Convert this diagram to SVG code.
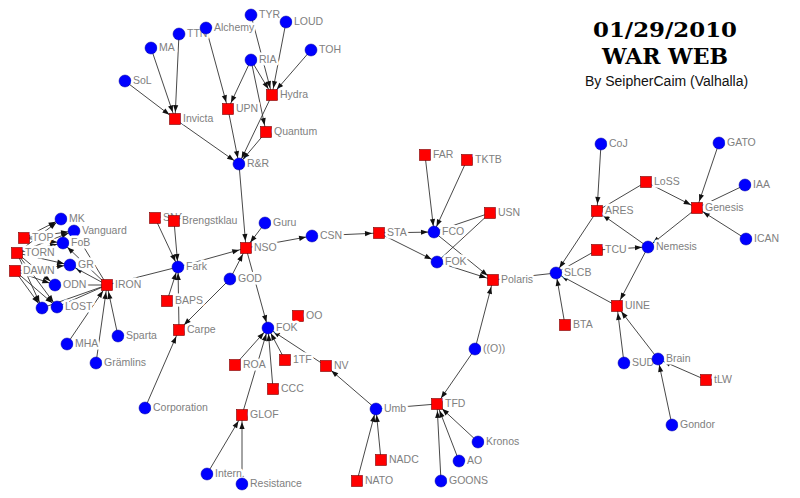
<svg xmlns="http://www.w3.org/2000/svg" width="800" height="498" viewBox="0 0 800 498">
<style>
.e{stroke:#333;stroke-width:0.9;fill:none}
.a{marker-end:url(#mc)}
.b{marker-end:url(#ms)}
.c{fill:#0000ff;stroke:#0000a0;stroke-width:0.5}
.s{fill:#ff0000;stroke:#7a0000;stroke-width:0.6}
.l{font-family:"Liberation Sans",Arial,sans-serif;font-size:10.5px;fill:#808080;stroke:#fff;stroke-width:5;paint-order:stroke;stroke-linejoin:round}
.t{font-family:"DejaVu Serif","Liberation Serif",serif;font-weight:bold;fill:#000}
.by{font-family:"Liberation Sans",Arial,sans-serif;font-size:14px;fill:#111}
</style>
<defs>
<marker id="mc" viewBox="0 -4 8 8" markerWidth="8" markerHeight="8" refX="13" refY="0" orient="auto" markerUnits="userSpaceOnUse" overflow="visible"><path d="M0,-2.6 L7,0 L0,2.6 z" fill="#111"/></marker>
<marker id="ms" viewBox="0 -4 8 8" markerWidth="8" markerHeight="8" refX="14" refY="0" orient="auto" markerUnits="userSpaceOnUse" overflow="visible"><path d="M0,-2.6 L7,0 L0,2.6 z" fill="#111"/></marker>
</defs>
<rect width="800" height="498" fill="#fff"/>
<g id="title">
<text class="t" x="593" y="37" font-size="21" textLength="144" lengthAdjust="spacingAndGlyphs">01/29/2010</text>
<text class="t" x="602" y="64" font-size="22" textLength="126" lengthAdjust="spacingAndGlyphs">WAR WEB</text>
<text class="by" x="585" y="86">By SeipherCaim (Valhalla)</text>
</g>
<g id="connectors">
<line class="e b" x1="125" y1="81" x2="175" y2="119"/>
<line class="e b" x1="151" y1="48" x2="175" y2="119"/>
<line class="e b" x1="179" y1="34" x2="175" y2="119"/>
<line class="e b" x1="206" y1="28" x2="228" y2="109"/>
<line class="e b" x1="251" y1="15" x2="272" y2="95"/>
<line class="e b" x1="286" y1="22" x2="272" y2="95"/>
<line class="e b" x1="311" y1="50" x2="272" y2="95"/>
<line class="e b" x1="251" y1="60" x2="272" y2="95"/>
<line class="e b" x1="251" y1="60" x2="228" y2="109"/>
<line class="e b" x1="251" y1="60" x2="266" y2="132"/>
<line class="e a" x1="175" y1="119" x2="239" y2="164"/>
<line class="e a" x1="228" y1="109" x2="239" y2="164"/>
<line class="e a" x1="272" y1="95" x2="239" y2="164"/>
<line class="e a" x1="266" y1="132" x2="239" y2="164"/>
<line class="e b" x1="239" y1="164" x2="246" y2="248"/>
<line class="e a" x1="155" y1="218" x2="178" y2="267"/>
<line class="e a" x1="174" y1="221" x2="178" y2="267"/>
<line class="e a" x1="167" y1="301" x2="178" y2="267"/>
<line class="e a" x1="179" y1="330" x2="178" y2="267"/>
<line class="e b" x1="178" y1="267" x2="246" y2="248"/>
<line class="e" x1="107" y1="285" x2="178" y2="267"/>
<line class="e b" x1="230" y1="279" x2="246" y2="248"/>
<line class="e b" x1="230" y1="279" x2="179" y2="330"/>
<line class="e b" x1="265" y1="223" x2="246" y2="248"/>
<line class="e a" x1="246" y1="248" x2="312" y2="236"/>
<line class="e a" x1="246" y1="248" x2="268" y2="328"/>
<line class="e b" x1="145" y1="408" x2="179" y2="330"/>
<line class="e a" x1="235" y1="365" x2="268" y2="328"/>
<line class="e a" x1="242" y1="415" x2="268" y2="328"/>
<line class="e a" x1="273" y1="389" x2="268" y2="328"/>
<line class="e a" x1="285" y1="360" x2="268" y2="328"/>
<line class="e a" x1="326" y1="366" x2="268" y2="328"/>
<line class="e b" x1="376" y1="409" x2="326" y2="366"/>
<line class="e b" x1="207" y1="474" x2="242" y2="415"/>
<line class="e b" x1="242" y1="484" x2="242" y2="415"/>
<line class="e a" x1="381" y1="460" x2="376" y2="409"/>
<line class="e a" x1="357" y1="481" x2="376" y2="409"/>
<line class="e" x1="376" y1="409" x2="437" y2="404"/>
<line class="e b" x1="475" y1="349" x2="437" y2="404"/>
<line class="e b" x1="475" y1="349" x2="493" y2="280"/>
<line class="e b" x1="441" y1="481" x2="437" y2="404"/>
<line class="e b" x1="459" y1="461" x2="437" y2="404"/>
<line class="e b" x1="478" y1="442" x2="437" y2="404"/>
<line class="e b" x1="312" y1="236" x2="379" y2="233"/>
<line class="e a" x1="379" y1="233" x2="434" y2="232"/>
<line class="e a" x1="379" y1="233" x2="437" y2="262"/>
<line class="e a" x1="425" y1="155" x2="434" y2="232"/>
<line class="e a" x1="467" y1="160" x2="434" y2="232"/>
<line class="e" x1="490" y1="213" x2="434" y2="232"/>
<line class="e" x1="490" y1="213" x2="437" y2="262"/>
<line class="e b" x1="434" y1="232" x2="493" y2="280"/>
<line class="e b" x1="437" y1="262" x2="493" y2="280"/>
<line class="e" x1="493" y1="280" x2="556" y2="273"/>
<line class="e b" x1="601" y1="144" x2="597" y2="211"/>
<line class="e b" x1="646" y1="182" x2="697" y2="208"/>
<line class="e" x1="646" y1="182" x2="597" y2="211"/>
<line class="e b" x1="719" y1="143" x2="697" y2="208"/>
<line class="e" x1="745" y1="185" x2="697" y2="208"/>
<line class="e b" x1="746" y1="239" x2="697" y2="208"/>
<line class="e b" x1="648" y1="247" x2="597" y2="211"/>
<line class="e a" x1="697" y1="208" x2="648" y2="247"/>
<line class="e a" x1="597" y1="250" x2="648" y2="247"/>
<line class="e" x1="597" y1="250" x2="556" y2="273"/>
<line class="e a" x1="597" y1="211" x2="556" y2="273"/>
<line class="e b" x1="648" y1="247" x2="617" y2="306"/>
<line class="e a" x1="617" y1="306" x2="556" y2="273"/>
<line class="e a" x1="565" y1="325" x2="556" y2="273"/>
<line class="e b" x1="624" y1="363" x2="617" y2="306"/>
<line class="e b" x1="658" y1="359" x2="617" y2="306"/>
<line class="e a" x1="706" y1="380" x2="658" y2="359"/>
<line class="e a" x1="672" y1="425" x2="658" y2="359"/>
<line class="e a" x1="107" y1="285" x2="70" y2="265"/>
<line class="e a" x1="107" y1="285" x2="63" y2="243"/>
<line class="e a" x1="107" y1="285" x2="74" y2="231"/>
<line class="e" x1="107" y1="285" x2="55" y2="285"/>
<line class="e" x1="107" y1="285" x2="57" y2="307"/>
<line class="e" x1="107" y1="285" x2="42" y2="308"/>
<line class="e b" x1="67" y1="344" x2="107" y2="285"/>
<line class="e b" x1="96" y1="363" x2="107" y2="285"/>
<line class="e b" x1="118" y1="336" x2="107" y2="285"/>
<line class="e a" x1="24" y1="238" x2="61" y2="219"/>
<line class="e a" x1="24" y1="238" x2="74" y2="231"/>
<line class="e a" x1="24" y1="238" x2="63" y2="243"/>
<line class="e a" x1="17" y1="253" x2="61" y2="219"/>
<line class="e a" x1="17" y1="253" x2="74" y2="231"/>
<line class="e a" x1="17" y1="253" x2="63" y2="243"/>
<line class="e a" x1="17" y1="253" x2="70" y2="265"/>
<line class="e a" x1="17" y1="253" x2="55" y2="285"/>
<line class="e a" x1="17" y1="253" x2="57" y2="307"/>
<line class="e a" x1="17" y1="253" x2="42" y2="308"/>
<line class="e a" x1="15" y1="271" x2="70" y2="265"/>
<line class="e a" x1="15" y1="271" x2="55" y2="285"/>
<line class="e a" x1="15" y1="271" x2="42" y2="308"/>
<line class="e a" x1="15" y1="271" x2="57" y2="307"/>
</g>
<g id="nodes">
<g id="n-SoL"><circle class="c" cx="125" cy="81" r="6"/><text class="l" x="133" y="84">SoL</text></g>
<g id="n-MA"><circle class="c" cx="151" cy="48" r="6"/><text class="l" x="159" y="51">MA</text></g>
<g id="n-TTN"><circle class="c" cx="179" cy="34" r="6"/><text class="l" x="187" y="37">TTN</text></g>
<g id="n-Alchemy"><circle class="c" cx="206" cy="28" r="6"/><text class="l" x="214" y="31">Alchemy</text></g>
<g id="n-TYR"><circle class="c" cx="251" cy="15" r="6"/><text class="l" x="259" y="18">TYR</text></g>
<g id="n-LOUD"><circle class="c" cx="286" cy="22" r="6"/><text class="l" x="294" y="25">LOUD</text></g>
<g id="n-TOH"><circle class="c" cx="311" cy="50" r="6"/><text class="l" x="319" y="53">TOH</text></g>
<g id="n-RIA"><circle class="c" cx="251" cy="60" r="6"/><text class="l" x="259" y="63">RIA</text></g>
<g id="n-Hydra"><rect class="s" x="266.5" y="89.5" width="11" height="11"/><text class="l" x="280" y="98">Hydra</text></g>
<g id="n-UPN"><rect class="s" x="222.5" y="103.5" width="11" height="11"/><text class="l" x="236" y="112">UPN</text></g>
<g id="n-Invicta"><rect class="s" x="169.5" y="113.5" width="11" height="11"/><text class="l" x="183" y="122">Invicta</text></g>
<g id="n-Quantum"><rect class="s" x="260.5" y="126.5" width="11" height="11"/><text class="l" x="274" y="135">Quantum</text></g>
<g id="n-RR"><circle class="c" cx="239" cy="164" r="6"/><text class="l" x="247" y="167">R&amp;R</text></g>
<g id="n-SNA"><rect class="s" x="149.5" y="212.5" width="11" height="11"/><text class="l" x="163" y="221">SNA</text></g>
<g id="n-Brengstklau"><rect class="s" x="168.5" y="215.5" width="11" height="11"/><text class="l" x="182" y="224">Brengstklau</text></g>
<g id="n-Guru"><circle class="c" cx="265" cy="223" r="6"/><text class="l" x="273" y="226">Guru</text></g>
<g id="n-NSO"><rect class="s" x="240.5" y="242.5" width="11" height="11"/><text class="l" x="254" y="251">NSO</text></g>
<g id="n-CSN"><circle class="c" cx="312" cy="236" r="6"/><text class="l" x="320" y="239">CSN</text></g>
<g id="n-Fark"><circle class="c" cx="178" cy="267" r="6"/><text class="l" x="186" y="270">Fark</text></g>
<g id="n-GOD"><circle class="c" cx="230" cy="279" r="6"/><text class="l" x="238" y="282">GOD</text></g>
<g id="n-BAPS"><rect class="s" x="161.5" y="295.5" width="11" height="11"/><text class="l" x="175" y="304">BAPS</text></g>
<g id="n-Carpe"><rect class="s" x="173.5" y="324.5" width="11" height="11"/><text class="l" x="187" y="333">Carpe</text></g>
<g id="n-OO"><rect class="s" x="292.5" y="310.5" width="11" height="11"/><text class="l" x="306" y="319">OO</text></g>
<g id="n-FOK"><circle class="c" cx="268" cy="328" r="6"/><text class="l" x="276" y="331">FOK</text></g>
<g id="n-ROA"><rect class="s" x="229.5" y="359.5" width="11" height="11"/><text class="l" x="243" y="368">ROA</text></g>
<g id="n-1TF"><rect class="s" x="279.5" y="354.5" width="11" height="11"/><text class="l" x="293" y="363">1TF</text></g>
<g id="n-NV"><rect class="s" x="320.5" y="360.5" width="11" height="11"/><text class="l" x="334" y="369">NV</text></g>
<g id="n-CCC"><rect class="s" x="267.5" y="383.5" width="11" height="11"/><text class="l" x="281" y="392">CCC</text></g>
<g id="n-GLOF"><rect class="s" x="236.5" y="409.5" width="11" height="11"/><text class="l" x="250" y="418">GLOF</text></g>
<g id="n-Corporation"><circle class="c" cx="145" cy="408" r="6"/><text class="l" x="153" y="411">Corporation</text></g>
<g id="n-Intern"><circle class="c" cx="207" cy="474" r="6"/><text class="l" x="215" y="477">Intern.</text></g>
<g id="n-Resistance"><circle class="c" cx="242" cy="484" r="6"/><text class="l" x="250" y="487">Resistance</text></g>
<g id="n-Umb"><circle class="c" cx="376" cy="409" r="6"/><text class="l" x="384" y="412">Umb</text></g>
<g id="n-NADC"><rect class="s" x="375.5" y="454.5" width="11" height="11"/><text class="l" x="389" y="463">NADC</text></g>
<g id="n-NATO"><rect class="s" x="351.5" y="475.5" width="11" height="11"/><text class="l" x="365" y="484">NATO</text></g>
<g id="n-TFD"><rect class="s" x="431.5" y="398.5" width="11" height="11"/><text class="l" x="445" y="407">TFD</text></g>
<g id="n-O"><circle class="c" cx="475" cy="349" r="6"/><text class="l" x="483" y="352">((O))</text></g>
<g id="n-Kronos"><circle class="c" cx="478" cy="442" r="6"/><text class="l" x="486" y="445">Kronos</text></g>
<g id="n-AO"><circle class="c" cx="459" cy="461" r="6"/><text class="l" x="467" y="464">AO</text></g>
<g id="n-GOONS"><circle class="c" cx="441" cy="481" r="6"/><text class="l" x="449" y="484">GOONS</text></g>
<g id="n-STA"><rect class="s" x="373.5" y="227.5" width="11" height="11"/><text class="l" x="387" y="236">STA</text></g>
<g id="n-FAR"><rect class="s" x="419.5" y="149.5" width="11" height="11"/><text class="l" x="433" y="158">FAR</text></g>
<g id="n-TKTB"><rect class="s" x="461.5" y="154.5" width="11" height="11"/><text class="l" x="475" y="163">TKTB</text></g>
<g id="n-USN"><rect class="s" x="484.5" y="207.5" width="11" height="11"/><text class="l" x="498" y="216">USN</text></g>
<g id="n-FCO"><circle class="c" cx="434" cy="232" r="6"/><text class="l" x="442" y="235">FCO</text></g>
<g id="n-FOK2"><circle class="c" cx="437" cy="262" r="6"/><text class="l" x="445" y="265">FOK</text></g>
<g id="n-Polaris"><rect class="s" x="487.5" y="274.5" width="11" height="11"/><text class="l" x="501" y="283">Polaris</text></g>
<g id="n-SLCB"><circle class="c" cx="556" cy="273" r="6"/><text class="l" x="564" y="276">SLCB</text></g>
<g id="n-CoJ"><circle class="c" cx="601" cy="144" r="6"/><text class="l" x="609" y="147">CoJ</text></g>
<g id="n-GATO"><circle class="c" cx="719" cy="143" r="6"/><text class="l" x="727" y="146">GATO</text></g>
<g id="n-IAA"><circle class="c" cx="745" cy="185" r="6"/><text class="l" x="753" y="188">IAA</text></g>
<g id="n-LoSS"><rect class="s" x="640.5" y="176.5" width="11" height="11"/><text class="l" x="654" y="185">LoSS</text></g>
<g id="n-ARES"><rect class="s" x="591.5" y="205.5" width="11" height="11"/><text class="l" x="605" y="214">ARES</text></g>
<g id="n-Genesis"><rect class="s" x="691.5" y="202.5" width="11" height="11"/><text class="l" x="705" y="211">Genesis</text></g>
<g id="n-ICAN"><circle class="c" cx="746" cy="239" r="6"/><text class="l" x="754" y="242">ICAN</text></g>
<g id="n-TCU"><rect class="s" x="591.5" y="244.5" width="11" height="11"/><text class="l" x="605" y="253">TCU</text></g>
<g id="n-Nemesis"><circle class="c" cx="648" cy="247" r="6"/><text class="l" x="656" y="250">Nemesis</text></g>
<g id="n-UINE"><rect class="s" x="611.5" y="300.5" width="11" height="11"/><text class="l" x="625" y="309">UINE</text></g>
<g id="n-BTA"><rect class="s" x="559.5" y="319.5" width="11" height="11"/><text class="l" x="573" y="328">BTA</text></g>
<g id="n-SUD"><circle class="c" cx="624" cy="363" r="6"/><text class="l" x="632" y="366">SUD</text></g>
<g id="n-Brain"><circle class="c" cx="658" cy="359" r="6"/><text class="l" x="666" y="362">Brain</text></g>
<g id="n-tLW"><rect class="s" x="700.5" y="374.5" width="11" height="11"/><text class="l" x="714" y="383">tLW</text></g>
<g id="n-Gondor"><circle class="c" cx="672" cy="425" r="6"/><text class="l" x="680" y="428">Gondor</text></g>
<g id="n-TOP"><rect class="s" x="18.5" y="232.5" width="11" height="11"/><text class="l" x="32" y="241">TOP</text></g>
<g id="n-TORN"><rect class="s" x="11.5" y="247.5" width="11" height="11"/><text class="l" x="25" y="256">TORN</text></g>
<g id="n-DAWN"><rect class="s" x="9.5" y="265.5" width="11" height="11"/><text class="l" x="23" y="274">DAWN</text></g>
<g id="n-MK"><circle class="c" cx="61" cy="219" r="6"/><text class="l" x="69" y="222">MK</text></g>
<g id="n-Vanguard"><circle class="c" cx="74" cy="231" r="6"/><text class="l" x="82" y="234">Vanguard</text></g>
<g id="n-FoB"><circle class="c" cx="63" cy="243" r="6"/><text class="l" x="71" y="246">FoB</text></g>
<g id="n-GR"><circle class="c" cx="70" cy="265" r="6"/><text class="l" x="78" y="268">GR</text></g>
<g id="n-ODN"><circle class="c" cx="55" cy="285" r="6"/><text class="l" x="63" y="288">ODN</text></g>
<g id="n-X"><circle class="c" cx="42" cy="308" r="6"/></g>
<g id="n-LOST"><circle class="c" cx="57" cy="307" r="6"/><text class="l" x="65" y="310">LOST</text></g>
<g id="n-IRON"><rect class="s" x="101.5" y="279.5" width="11" height="11"/><text class="l" x="115" y="288">IRON</text></g>
<g id="n-MHA"><circle class="c" cx="67" cy="344" r="6"/><text class="l" x="75" y="347">MHA</text></g>
<g id="n-Gramlins"><circle class="c" cx="96" cy="363" r="6"/><text class="l" x="104" y="366">Grämlins</text></g>
<g id="n-Sparta"><circle class="c" cx="118" cy="336" r="6"/><text class="l" x="126" y="339">Sparta</text></g>
</g>
</svg>
